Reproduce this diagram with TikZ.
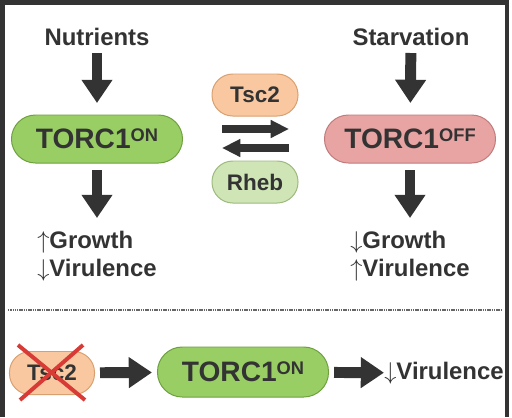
\documentclass[tikz,border=0pt]{standalone}
\usepackage{fontspec}
\setmainfont{Liberation Sans}
\usepackage{tikz}
\usetikzlibrary{arrows.meta}
\definecolor{tinta}{HTML}{333333}
\definecolor{verdeOn}{HTML}{98CE64}
\definecolor{verdeBorde}{HTML}{6FA040}
\definecolor{rosaOff}{HTML}{E8A3A3}
\definecolor{rosaBorde}{HTML}{C07C7C}
\definecolor{naranjaTsc}{HTML}{F9C8A0}
\definecolor{naranjaBorde}{HTML}{D8A070}
\definecolor{verdeRheb}{HTML}{CFE5B5}
\definecolor{rhebBorde}{HTML}{9CB97E}
\definecolor{rojoX}{HTML}{D83A36}

\begin{document}
\begin{tikzpicture}[x=0.025cm,y=-0.025cm,
    pastilla/.style={draw,line width=0.7pt,rounded corners=0.6cm,inner sep=0pt,text=tinta,font=\bfseries},
    torc/.style={pastilla,minimum width=4.275cm,minimum height=1.2cm,font=\bfseries\fontsize{20}{20}\selectfont},
    chica/.style={pastilla,minimum width=2.15cm,minimum height=1.05cm,rounded corners=0.52cm,font=\bfseries\fontsize{16}{16}\selectfont},
    rotulo/.style={text=tinta,font=\bfseries\fontsize{17}{20}\selectfont,inner sep=0pt},
    efecto/.style={rotulo,align=left},
    flechaG/.style={tinta,line width=7.8pt,-{Triangle[width=21pt,length=16.5pt]}},
    flechaM/.style={tinta,line width=5pt,-{Triangle[width=12pt,length=13pt]}}]
  % fondo y marco
  \useasboundingbox (0,0) rectangle (512,417);
  \fill[white] (0,0) rectangle (512,417);
  \fill[tinta] (0,0) rectangle (5,417);
  \fill[tinta] (0,0) rectangle (509,5);
  \fill[tinta] (505,0) rectangle (509,417);

  % lado izquierdo
  \node[rotulo] (nut) at (97,37) {Nutrients};
  \node[torc,fill=verdeOn,draw=verdeBorde] (on) at (97,139)
    {TORC1\raisebox{5pt}{\fontsize{13}{13}\selectfont ON}};
  \node[efecto] (effon) at (97,256) {$\uparrow$Growth\\$\downarrow$Virulence};
  \draw[flechaG,shorten <=0.4cm,shorten >=0.9cm] (nut.center) -- (on.center);
  \draw[flechaG,shorten <=0.775cm,shorten >=0.95cm] (on.center) -- (effon.center);

  % lado derecho
  \node[rotulo] (starv) at (411,37) {Starvation};
  \node[torc,fill=rosaOff,draw=rosaBorde] (off) at (410,139)
    {TORC1\raisebox{5pt}{\fontsize{13}{13}\selectfont OFF}};
  \node[efecto] (effoff) at (410,256) {$\downarrow$Growth\\$\uparrow$Virulence};
  \draw[flechaG,shorten <=0.4cm,shorten >=0.9cm] (starv.center) -- (off.center);
  \draw[flechaG,shorten <=0.775cm,shorten >=0.95cm] (off.center) -- (effoff.center);

  % centro
  \node[chica,fill=naranjaTsc,draw=naranjaBorde] (tsc) at (255,95) {Tsc2};
  \node[chica,fill=verdeRheb,draw=rhebBorde] (rheb) at (255,182) {Rheb};
  \draw[flechaM] ([shift={(-33,34)}]tsc.center) -- ([shift={(34,34)}]tsc.center);
  \draw[flechaM] ([shift={(34,-34)}]rheb.center) -- ([shift={(-33,-34)}]rheb.center);

  % separador
  \draw[gray!80!black,line width=0.9pt,dash pattern=on 1pt off 0.6pt] (8,310) -- (501,310);

  % mutante
  \node[chica,minimum width=2.125cm,minimum height=1.075cm,fill=naranjaTsc,draw=naranjaBorde] (ko) at (52,373) {Tsc2};
  \draw[rojoX,line width=2.8pt] ([shift={(-34,-28)}]ko.center) -- ([shift={(33,27)}]ko.center);
  \draw[rojoX,line width=2.8pt] ([shift={(31,-28)}]ko.center) -- ([shift={(-32,27)}]ko.center);
  \node[torc,minimum height=1.25cm,rounded corners=0.62cm,fill=verdeOn,draw=verdeBorde] (on2) at (243,372)
    {TORC1\raisebox{5pt}{\fontsize{13}{13}\selectfont ON}};
  \node[rotulo] (vir) at (444,373) {$\downarrow$Virulence};
  \draw[flechaG,shorten <=1.2cm,shorten >=2.275cm] (ko.center) -- (on2.center);
  \draw[flechaG,shorten <=2.275cm,shorten >=1.5cm] (on2.center) -- (vir.center);
\end{tikzpicture}
\end{document}
